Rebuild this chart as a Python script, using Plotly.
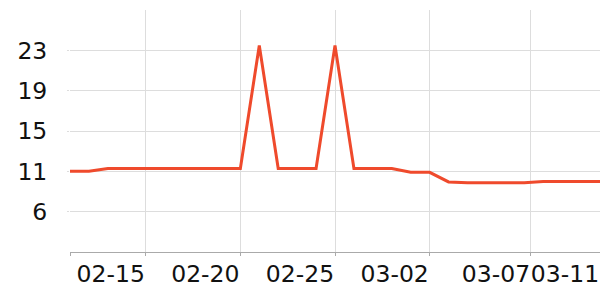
import plotly.graph_objects as go
import pandas as pd

dates = pd.date_range("2025-02-11", "2025-03-11", freq="D")
values = [10.5, 10.5, 10.8, 10.8, 10.8, 10.8, 10.8, 10.8, 10.8, 10.8,
          23.6, 10.8, 10.8, 10.8, 23.6, 10.8, 10.8, 10.8, 10.4, 10.4,
          9.4, 9.3, 9.3, 9.3, 9.3, 9.45, 9.45, 9.45, 9.45]

x_tickvals = ["2025-02-11", "2025-02-15", "2025-02-20", "2025-02-25",
              "2025-03-02", "2025-03-07 08:30", "2025-03-11"]
x_ticktext = ["", "02-15", "02-20", "02-25", "03-02", "03-07", "03-11"]

y_tickvals = [6.3, 10.5, 14.7, 18.9, 23.1]
y_ticktext = ["6", "11", "15", "19", "23"]

fig = go.Figure()
fig.add_trace(go.Scatter(x=dates, y=values, mode="lines",
                         line=dict(color="#ef4a2c", width=3),
                         hoverinfo="skip"))

fig.update_layout(
    width=600, height=300,
    margin=dict(l=70, r=0, t=10, b=48),
    paper_bgcolor="white", plot_bgcolor="white",
    showlegend=False,
    font=dict(family="DejaVu Sans", size=23.5, color="#111111"),
)
fig.update_xaxes(
    type="date",
    range=["2025-02-11", "2025-03-11"],
    tickmode="array", tickvals=x_tickvals, ticktext=x_ticktext,
    tickangle=0, automargin=False,
    showgrid=True, gridcolor="#dddddd", gridwidth=1,
    showline=True, linecolor="#aaaaaa", linewidth=1,
    ticks="outside", ticklen=3, tickcolor="#aaaaaa",
    ticklabelshift=-35, ticklabelstandoff=-2,
    zeroline=False,
)
fig.update_yaxes(
    range=[2.1, 27.3],
    tickmode="array", tickvals=y_tickvals, ticktext=y_ticktext,
    automargin=False,
    showgrid=True, gridcolor="#dddddd", gridwidth=1,
    showline=False,
    ticks="outside", ticklen=2, tickcolor="#dddddd",
    ticklabelstandoff=15,
    zeroline=False,
)

fig.write_html("out.html")
